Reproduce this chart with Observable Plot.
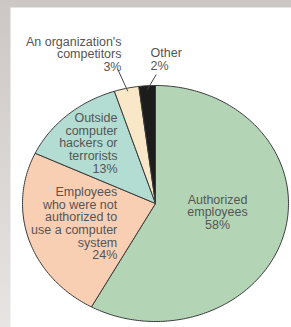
<!DOCTYPE html>
<html><head><meta charset="utf-8">
<script src="https://cdn.jsdelivr.net/npm/d3@7"></script>
<script src="https://cdn.jsdelivr.net/npm/@observablehq/plot@0.6"></script>
<style>
body{margin:0;}
#wrap{width:291px;height:327px;background:linear-gradient(to bottom,#ccc7c5,#e7e4e3);}
#wrap svg{display:block;}
</style></head><body><div id="wrap"></div>
<script>
const categories = ["Authorized employees", "Employees who were not authorized to use a computer system", "Outside computer hackers or terrorists", "An organization's competitors", "Other"];
const labelLines = ["Authorized\nemployees", "Employees\nwho were not\nauthorized to\nuse a computer\nsystem", "Outside\ncomputer\nhackers or\nterrorists", "An organization's\ncompetitors", "Other"];
const values = [58, 24, 13, 3, 2];
const colors = ["#b3d5b6", "#f9cfb4", "#b3ddd2", "#f8e8c8", "#1c1c1c"];

const total = d3.sum(values);
let acc = 0;
const slices = categories.map((cat, i) => {
  const a0 = acc / total * 360;
  acc += values[i];
  const a1 = acc / total * 360;
  return {cat, value: values[i], label: labelLines[i] + "\n" + values[i] + "%", a0, a1, mid: (a0 + a1) / 2};
});
const rad = (deg) => deg * Math.PI / 180;
const px = (ang, r) => r * Math.sin(rad(ang));
const py = (ang, r) => r * Math.cos(rad(ang));

// slice outlines (center -> arc -> center)
const pts = [];
for (const s of slices) {
  pts.push({cat: s.cat, x: 0, y: 0});
  const n = Math.max(2, Math.ceil(s.a1 - s.a0));
  for (let k = 0; k <= n; k++) {
    const a = s.a0 + (s.a1 - s.a0) * k / n;
    pts.push({cat: s.cat, x: px(a, 1), y: py(a, 1)});
  }
  pts.push({cat: s.cat, x: 0, y: 0});
}

const textStyle = {fontSize: 12.5, fill: "#555", lineHeight: 1.01, lineAnchor: "middle"};
const lbl = (i, r, opts) => Plot.text([slices[i]], {
  x: d => px(d.mid, r), y: d => py(d.mid, r), text: "label", ...textStyle, ...opts
});

const chart = Plot.plot({
  width: 291, height: 327,
  marginLeft: 10, marginTop: 7, marginRight: 0, marginBottom: 0,
  x: {domain: [-1, 1], range: [22, 288], axis: null},
  y: {domain: [-1, 1], range: [321, 85], axis: null},
  color: {domain: categories, range: colors},
  style: {background: "transparent", fontFamily: "'Liberation Sans', Arial, sans-serif"},
  marks: [
    Plot.frame({fill: "white", stroke: null}),
    Plot.line(pts, {x: "x", y: "y", z: "cat", fill: "cat", stroke: "#3a3a3a", strokeWidth: 1, strokeLinejoin: "miter"}),
    lbl(0, 0.5, {textAnchor: "middle", dx: -2.4, dy: -6}),
    lbl(1, 0.5, {textAnchor: "end", dx: 25, dy: 2}),
    lbl(2, 0.5, {textAnchor: "end", dx: 6, dy: -16}),
    lbl(3, 1, {textAnchor: "end", dx: -5, dy: -34}),
    lbl(4, 1, {textAnchor: "start", dx: 3.4, dy: -26}),
    Plot.link([slices[3]], {
      x1: d => px(d.mid - 1.4, 1.17), y1: d => py(d.mid - 1.4, 1.17),
      x2: d => px(d.mid + 0.25, 0.974), y2: d => py(d.mid + 0.25, 0.974),
      stroke: "#444", strokeWidth: 1
    }),
    Plot.link([slices[4]], {
      x1: d => px(d.mid + 3.9, 1.093), y1: d => py(d.mid + 3.9, 1.093),
      x2: d => px(d.mid - 0.1, 0.966), y2: d => py(d.mid - 0.1, 0.966),
      stroke: "#444", strokeWidth: 1
    })
  ]
});
document.getElementById("wrap").appendChild(chart);
</script></body></html>
